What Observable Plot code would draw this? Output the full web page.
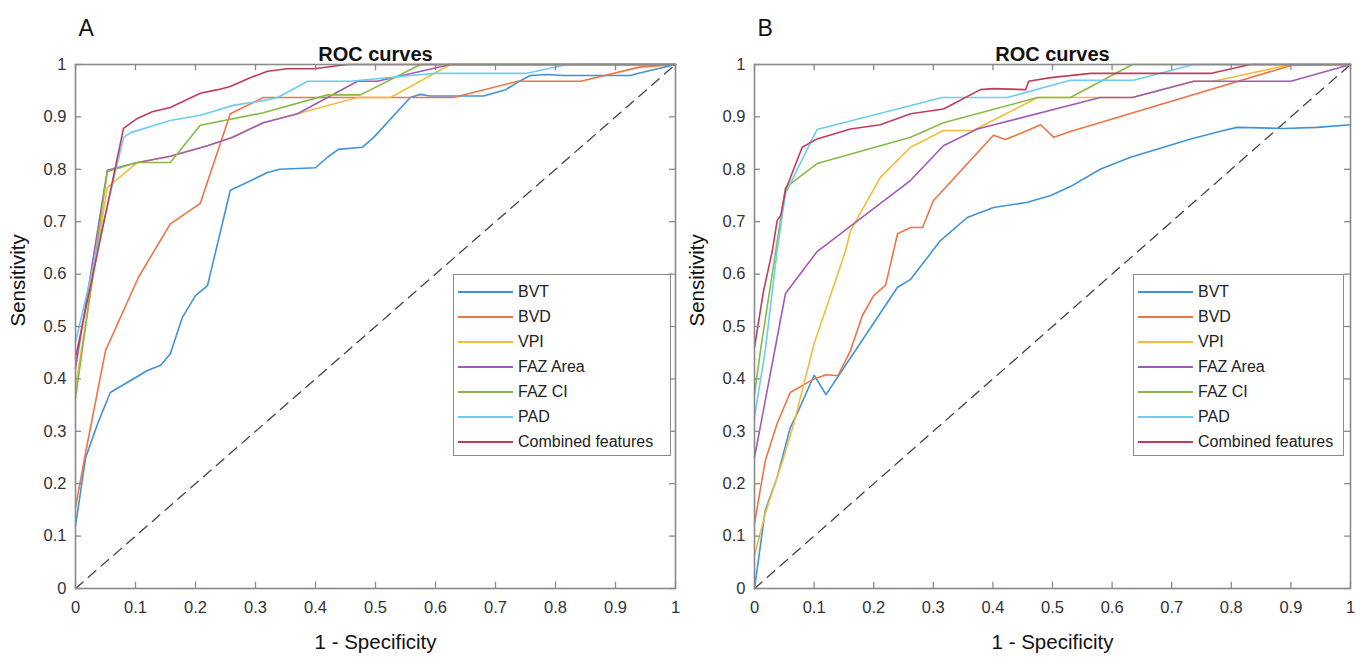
<!DOCTYPE html>
<html>
<head>
<meta charset="utf-8">
<script src="https://cdn.jsdelivr.net/npm/d3@7"></script>
<script src="https://cdn.jsdelivr.net/npm/@observablehq/plot@0.6"></script>
<style>
  html, body { margin: 0; padding: 0; background: #fff; }
  #wrap { position: relative; width: 1368px; height: 667px; overflow: hidden; font-family: "Liberation Sans", Arial, sans-serif; }
  .panel { position: absolute; top: 0; }
  .legend { position: absolute; border: 1.5px solid #8a8a8a; background: #fff; box-sizing: border-box; }
  .row { position: absolute; left: 0; height: 20px; display: flex; align-items: center; font-size: 16px; color: #222; white-space: nowrap; }
  .row svg { margin-left: 4px; margin-right: 5px; }
</style>
</head>
<body>
<div id="wrap"></div>
<script>
// ---------- data ----------
const seriesNames = ["BVT", "BVD", "VPI", "FAZ Area", "FAZ CI", "PAD", "Combined features"];
const seriesColors = ["#3f93d6", "#ee7446", "#f2bd3a", "#a05ab8", "#86ba45", "#6ccdf2", "#c23c5a"];
const xTicks = [0, 0.1, 0.2, 0.3, 0.4, 0.5, 0.6, 0.7, 0.8, 0.9, 1];
const xTickLabels = ["0", "0.1", "0.2", "0.3", "0.4", "0.5", "0.6", "0.7", "0.8", "0.9", "1"];
const yTicks = [0, 0.1, 0.2, 0.3, 0.4, 0.5, 0.6, 0.7, 0.8, 0.9, 1];
const yTickLabels = ["0", "0.1", "0.2", "0.3", "0.4", "0.5", "0.6", "0.7", "0.8", "0.9", "1"];
const chanceLine = [[0, 0], [1, 1]];

// Panel A
const aBVT = [[0,0.12],[0.017,0.25],[0.037,0.315],[0.058,0.374],[0.12,0.416],[0.142,0.426],[0.158,0.448],[0.178,0.517],[0.2,0.559],[0.22,0.578],[0.258,0.76],[0.275,0.769],[0.32,0.794],[0.34,0.80],[0.40,0.803],[0.42,0.823],[0.438,0.838],[0.478,0.842],[0.497,0.861],[0.558,0.937],[0.575,0.943],[0.59,0.94],[0.68,0.94],[0.717,0.952],[0.737,0.966],[0.758,0.979],[0.787,0.981],[0.813,0.979],[0.925,0.979],[0.937,0.983],[1,1]];
const aBVD = [[0,0.155],[0.017,0.26],[0.05,0.454],[0.105,0.594],[0.158,0.696],[0.208,0.735],[0.258,0.906],[0.313,0.937],[0.63,0.937],[0.737,0.968],[0.842,0.968],[0.94,0.995],[1,1]];
const aVPI = [[0,0.385],[0.053,0.765],[0.103,0.813],[0.158,0.825],[0.22,0.845],[0.262,0.861],[0.313,0.889],[0.37,0.906],[0.47,0.937],[0.525,0.937],[0.625,1],[1,1]];
const aFAZArea = [[0,0.42],[0.053,0.798],[0.1,0.812],[0.158,0.825],[0.22,0.845],[0.262,0.861],[0.313,0.889],[0.37,0.906],[0.47,0.968],[0.503,0.968],[0.625,1],[1,1]];
const aFAZCI = [[0,0.363],[0.053,0.796],[0.103,0.813],[0.158,0.813],[0.208,0.884],[0.313,0.908],[0.42,0.942],[0.475,0.942],[0.575,1],[1,1]];
const aPAD = [[0,0.47],[0.08,0.861],[0.092,0.87],[0.158,0.893],[0.208,0.903],[0.263,0.922],[0.313,0.931],[0.337,0.937],[0.387,0.968],[0.458,0.968],[0.558,0.979],[0.6,0.983],[0.75,0.983],[0.82,1],[1,1]];
const aCombined = [[0,0.44],[0.08,0.878],[0.103,0.897],[0.128,0.91],[0.158,0.918],[0.208,0.945],[0.237,0.952],[0.258,0.958],[0.292,0.975],[0.32,0.987],[0.353,0.992],[0.397,0.992],[0.453,1],[1,1]];

// Panel B
const bBVT = [[0,0],[0.018,0.149],[0.038,0.212],[0.06,0.307],[0.074,0.34],[0.1,0.407],[0.12,0.37],[0.141,0.406],[0.24,0.575],[0.262,0.59],[0.312,0.664],[0.357,0.708],[0.401,0.727],[0.458,0.737],[0.497,0.75],[0.53,0.767],[0.58,0.80],[0.631,0.823],[0.732,0.858],[0.787,0.874],[0.81,0.88],[0.888,0.878],[0.944,0.88],[1,0.885]];
const bBVD = [[0,0.124],[0.018,0.244],[0.038,0.315],[0.06,0.374],[0.1,0.40],[0.12,0.408],[0.14,0.406],[0.161,0.454],[0.181,0.521],[0.2,0.559],[0.22,0.579],[0.24,0.677],[0.262,0.689],[0.282,0.689],[0.3,0.74],[0.401,0.865],[0.421,0.857],[0.458,0.874],[0.48,0.885],[0.502,0.861],[0.53,0.872],[0.9,0.998],[1,1]];
const bVPI = [[0,0.063],[0.018,0.143],[0.049,0.25],[0.066,0.315],[0.1,0.467],[0.153,0.645],[0.161,0.683],[0.211,0.784],[0.262,0.842],[0.317,0.874],[0.367,0.874],[0.475,0.937],[0.634,0.937],[0.737,0.968],[0.77,0.968],[0.9,1],[1,1]];
const bFAZArea = [[0,0.25],[0.052,0.563],[0.105,0.643],[0.262,0.779],[0.317,0.845],[0.374,0.877],[0.58,0.937],[0.634,0.937],[0.737,0.968],[0.9,0.968],[1,1]];
const bFAZCI = [[0,0.37],[0.01,0.454],[0.052,0.765],[0.105,0.811],[0.262,0.861],[0.317,0.889],[0.475,0.937],[0.53,0.937],[0.634,1],[1,1]];
const bPAD = [[0,0.327],[0.018,0.454],[0.038,0.645],[0.052,0.754],[0.105,0.876],[0.315,0.937],[0.424,0.937],[0.53,0.97],[0.636,0.97],[0.737,1],[1,1]];
const bCombined = [[0,0.46],[0.015,0.567],[0.03,0.645],[0.038,0.702],[0.044,0.712],[0.052,0.76],[0.08,0.842],[0.105,0.858],[0.161,0.877],[0.211,0.885],[0.262,0.906],[0.317,0.915],[0.334,0.925],[0.379,0.952],[0.401,0.954],[0.455,0.952],[0.46,0.968],[0.497,0.975],[0.564,0.983],[0.765,0.983],[0.832,1],[1,1]];

const panelASeries = [aBVT, aBVD, aVPI, aFAZArea, aFAZCI, aPAD, aCombined];
const panelBSeries = [bBVT, bBVD, bVPI, bFAZArea, bFAZCI, bPAD, bCombined];

// ---------- drawing ----------
const FONT = "Liberation Sans, Arial, sans-serif";
const frameColor = "#8a8a8a";

function makePanel(series, letter, opts) {
  const lines = series.map((s, i) => Plot.line(s, {
    x: d => d[0], y: d => d[1], stroke: seriesColors[i], strokeWidth: 1.6, curve: "linear"
  }));
  return Plot.plot({
    width: 684,
    height: 667,
    marginLeft: opts.ml,
    marginRight: opts.mr,
    marginTop: 64,
    marginBottom: 79,
    style: { fontFamily: FONT, background: "transparent", overflow: "visible" },
    x: { domain: [0, 1], axis: null },
    y: { domain: [0, 1], axis: null },
    marks: [
      Plot.line(chanceLine, { x: d => d[0], y: d => d[1], stroke: "#444", strokeWidth: 1.3, strokeDasharray: "10,7" }),
      ...lines,
      // inside ticks (bottom, top, left, right)
      Plot.ruleX(xTicks, { x: d => d, y1: 0, y2: 0.012, stroke: frameColor, strokeWidth: 1.3 }),
      Plot.ruleX(xTicks, { x: d => d, y1: 1, y2: 0.988, stroke: frameColor, strokeWidth: 1.3 }),
      Plot.ruleY(yTicks, { y: d => d, x1: 0, x2: 0.01, stroke: frameColor, strokeWidth: 1.3 }),
      Plot.ruleY(yTicks, { y: d => d, x1: 1, x2: 0.99, stroke: frameColor, strokeWidth: 1.3 }),
      Plot.frame({ stroke: frameColor, strokeWidth: 1.6 }),
      // tick labels
      Plot.text(xTicks, { x: d => d, y: 0, dy: 19, text: (d, i) => xTickLabels[i], fontSize: 16.5, fill: "#333", fontFamily: FONT }),
      Plot.text(yTicks, { x: 0, y: d => d, dx: -9, text: (d, i) => yTickLabels[i], textAnchor: "end", fontSize: 16.5, fill: "#333", fontFamily: FONT }),
      // title and axis labels
      Plot.text(["ROC curves"], { frameAnchor: "top", dy: -18, text: d => d, fontSize: 20, fontWeight: "bold", fill: "#111", fontFamily: FONT }),
      Plot.text(["1 - Specificity"], { frameAnchor: "bottom", dy: 60, text: d => d, fontSize: 20.5, fill: "#111", fontFamily: FONT }),
      Plot.text(["Sensitivity"], { frameAnchor: "left", dx: -57, rotate: -90, text: d => d, fontSize: 20.5, fill: "#111", fontFamily: FONT }),
      Plot.text([letter], { frameAnchor: "top-left", dx: opts.letterDx, dy: -45, text: d => d, fontSize: 23, fill: "#111", fontFamily: FONT })
    ]
  });
}

const wrap = document.getElementById("wrap");

function addPanel(series, letter, left, opts) {
  const div = document.createElement("div");
  div.className = "panel";
  div.style.left = left + "px";
  div.appendChild(makePanel(series, letter, opts));
  wrap.appendChild(div);
}

addPanel(panelASeries, "A", 0, { ml: 75, mr: 9, letterDx: 3 });
addPanel(panelBSeries, "B", 684, { ml: 70, mr: 18, letterDx: 3 });

function addLegend(left, top, width, height) {
  const lg = document.createElement("div");
  lg.className = "legend";
  lg.style.left = left + "px";
  lg.style.top = top + "px";
  lg.style.width = width + "px";
  lg.style.height = height + "px";
  seriesNames.forEach((name, i) => {
    const row = document.createElement("div");
    row.className = "row";
    row.style.top = (7 + i * 25) + "px";
    row.innerHTML = `<svg width="55" height="4"><line x1="0" y1="2" x2="55" y2="2" stroke="${seriesColors[i]}" stroke-width="1.8"/></svg><span>${name}</span>`;
    lg.appendChild(row);
  });
  wrap.appendChild(lg);
}

addLegend(453, 274, 218, 182);
addLegend(1133, 274, 211, 182);
</script>
</body>
</html>
